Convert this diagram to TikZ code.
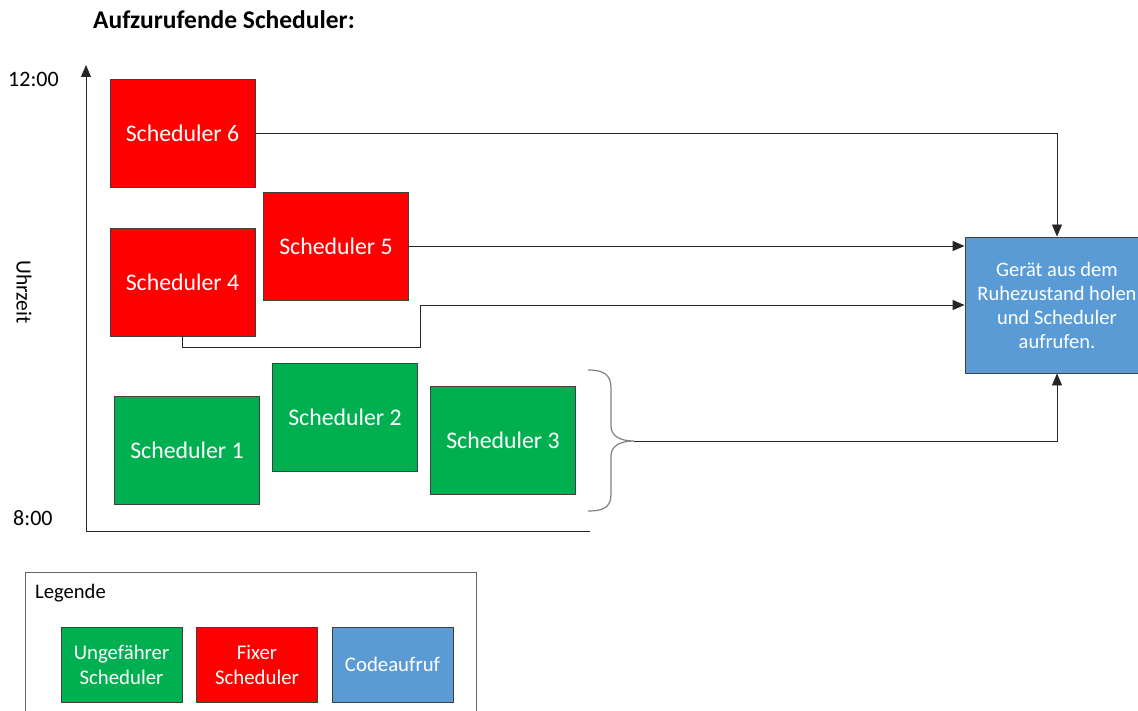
\documentclass[tikz,border=0pt]{standalone}
\usepackage{fontspec}
\setmainfont{Carlito}
\usetikzlibrary{arrows.meta}
\definecolor{fixred}{HTML}{FF0000}
\definecolor{apgreen}{HTML}{00B050}
\definecolor{codeblue}{HTML}{5B9BD5}
\definecolor{edgegray}{HTML}{404040}
\tikzset{
  schedbox/.style={draw=edgegray, line width=0.9pt, minimum width=145, minimum height=108, text=white, font=\fontsize{23.8}{26}\selectfont, inner sep=0pt},
  fixbox/.style={schedbox, fill=fixred},
  apbox/.style={schedbox, fill=apgreen},
  legbox/.style={draw=edgegray, line width=0.9pt, minimum width=121, minimum height=75, text=white, align=center, font=\fontsize{20.8}{25}\selectfont, inner sep=0pt},
  conn/.style={line width=0.9pt, draw=black!85, -{Triangle[length=12pt,width=10pt]}},
  plain/.style={line width=0.9pt, draw=black!85},
}
\begin{document}
\begin{tikzpicture}[x=1pt,y=-1pt]
\useasboundingbox (0,0) rectangle (1138,711);
% title
\node[font=\bfseries\fontsize{25.5}{28}\selectfont, anchor=west, inner sep=0pt] (title) at (93,20) {Aufzurufende Scheduler:};
% axes
\coordinate (origin) at (86,531);
\coordinate (ytop) at (86,65);
\coordinate (xend) at (590,531);
\draw[conn] (origin) -- (ytop);
\draw[plain] (origin) -- (xend);
\node[font=\fontsize{22}{24}\selectfont, anchor=west, inner sep=0pt] (t12) at (8,79) {12:00};
\node[font=\fontsize{22}{24}\selectfont, anchor=west, inner sep=0pt] (t8) at (13,518) {8:00};
\node[font=\fontsize{21.6}{24}\selectfont, rotate=-90] (uhr) at (24,292) {Uhrzeit};
% schedulers
\node[fixbox] (s6) at (182.5,133) {Scheduler 6};
\node[fixbox] (s5) at (336,246) {Scheduler 5};
\node[fixbox] (s4) at (182.5,282) {Scheduler 4};
\node[apbox] (s1) at (187,450.5) {Scheduler 1};
\node[apbox] (s2) at (345,417.5) {Scheduler 2};
\node[apbox] (s3) at (503,440.5) {Scheduler 3};
% code call box
\node[draw=edgegray, line width=0.9pt, fill=codeblue, minimum width=184, minimum height=136, inner sep=0pt, text=white, align=center, font=\fontsize{20.5}{24}\selectfont] (code) at (1057,305) {Gerät aus dem\\Ruhezustand holen\\und Scheduler\\aufrufen.};
% brace
\coordinate (bt) at (588,370);
\coordinate (bb) at (588,511);
\coordinate (btip) at (634,441);
\draw[line width=1.2pt, draw=black!50] (bt) .. controls (604,370) and (611,375) .. (611,388) -- (611,426) .. controls (611,436) and (620,441) .. (btip)
  .. controls (620,441) and (611,446) .. (611,456) -- (611,494) .. controls (611,507) and (604,511) .. (bb);
% connectors
\draw[conn] (s6.east) -| (code.north);
\draw[conn] (s5.east) -- (code.west |- s5.east);
\coordinate (k1) at (420,347);
\coordinate (k2) at (420,305);
\draw[conn] (s4.south) |- (k1) -- (k2) -- (k2 -| code.west);
\draw[conn] (btip) -| (code.south);
% legend
\draw[draw=edgegray!80, line width=0.9pt] (25,572) rectangle (476,722);
\node[font=\fontsize{20.6}{24}\selectfont, anchor=west, inner sep=0pt] (leg) at (35,593) {Legende};
\node[legbox, fill=apgreen] (l1) at (121.5,664.5) {Ungefährer\\Scheduler};
\node[legbox, fill=fixred] (l2) at (257,664.5) {Fixer\\Scheduler};
\node[legbox, fill=codeblue] (l3) at (392.5,664.5) {Codeaufruf};
\end{tikzpicture}
\end{document}
